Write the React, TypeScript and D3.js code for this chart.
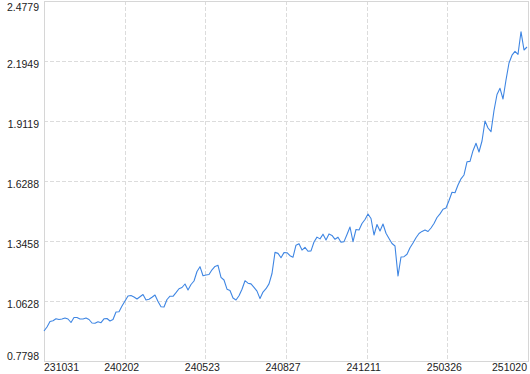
import React from "react";
import * as d3 from "d3";

const xTickLabels = ["231031", "240202", "240523", "240827", "241211", "250326", "251020"];
const yTickLabels = ["0.7798", "1.0628", "1.3458", "1.6288", "1.9119", "2.1949", "2.4779"];
const yMin = 0.7798;
const yMax = 2.4779;

const navValues = [
  0.9213, 0.9402, 0.9661, 0.9699, 0.9789, 0.9756, 0.9779, 0.9826, 0.9779, 0.9614,
  0.985, 0.985, 0.9779, 0.9779, 0.9826, 0.9756, 0.9591, 0.9576, 0.9647, 0.9605,
  0.9789, 0.9803, 0.9685, 0.9756, 1.0109, 1.0124, 1.0393, 1.0628, 1.0864, 1.0888,
  1.0817, 1.0723, 1.0831, 1.0935, 1.0676, 1.0709, 1.0803, 1.0911, 1.0605, 1.036,
  1.0345, 1.0699, 1.0855, 1.085, 1.102, 1.1208, 1.1265, 1.143, 1.1147, 1.1407,
  1.1572, 1.202, 1.2246, 1.1817, 1.1855, 1.1878, 1.21, 1.2256, 1.2312, 1.1746,
  1.1619, 1.1185, 1.1124, 1.077, 1.0676, 1.0874, 1.1185, 1.1586, 1.1468, 1.1435,
  1.127, 1.1095, 1.0742, 1.1048, 1.1208, 1.1435, 1.1925, 1.2921, 1.2874, 1.2671,
  1.2911, 1.2907, 1.2765, 1.2694, 1.326, 1.3331, 1.3029, 1.3161, 1.2973, 1.2992,
  1.3411, 1.3642, 1.3558, 1.3779, 1.3506, 1.3793, 1.3723, 1.3539, 1.3638, 1.3402,
  1.343, 1.3765, 1.4119, 1.3426, 1.4001, 1.3977, 1.4284, 1.4473, 1.4732, 1.452,
  1.3741, 1.4237, 1.393, 1.426, 1.3822, 1.3576, 1.3341, 1.3223, 1.1808, 1.2704,
  1.2718, 1.2831, 1.3138, 1.3364, 1.3614, 1.3812, 1.3911, 1.3977, 1.3907, 1.4072,
  1.4284, 1.4567, 1.4737, 1.4958, 1.5015, 1.5369, 1.5756, 1.5737, 1.61, 1.6392,
  1.6572, 1.7194, 1.7213, 1.7718, 1.8067, 1.7656, 1.8175, 1.9119, 1.8789, 1.8614,
  1.9614, 2.0369, 2.0661, 2.0157, 2.1053, 2.1855, 2.2222, 2.2402, 2.2265, 2.3331,
  2.2468, 2.2609,
];

const W = 530;
const H = 374;
const left = 44;
const right = 528;
const top = 1;
const bottom = 361;
const FONT = "'Liberation Sans', Arial, sans-serif";

export default function App() {
  const x = d3.scaleLinear().domain([0, navValues.length - 1]).range([left, right - 1]);
  const y = d3.scaleLinear().domain([yMin, yMax]).range([bottom, top]);
  const line = d3
    .line<number>()
    .x((_, i) => x(i))
    .y((d) => y(d));

  const yTicks = yTickLabels.map((t, i) => ({
    label: t,
    v: yMin + ((yMax - yMin) * i) / (yTickLabels.length - 1),
  }));
  const xPos = d3.scaleLinear().domain([0, xTickLabels.length - 1]).range([left, right]);

  return (
    <svg
      width={W}
      height={H}
      style={{ position: "absolute", left: 0, top: 0, background: "#fff" }}
      fontFamily={FONT}
      fontSize={10.5}
    >
      {/* horizontal grid */}
      {yTicks.slice(1, -1).map((t) => (
        <line
          key={"hg" + t.label}
          x1={left}
          x2={right}
          y1={Math.round(y(t.v)) + 0.5}
          y2={Math.round(y(t.v)) + 0.5}
          stroke="#dcdcdc"
          strokeDasharray="4,2"
        />
      ))}
      {/* vertical grid */}
      {xTickLabels.slice(1, -1).map((t, i) => (
        <line
          key={"vg" + t}
          x1={Math.round(xPos(i + 1)) + 0.5}
          x2={Math.round(xPos(i + 1)) + 0.5}
          y1={top}
          y2={bottom}
          stroke="#dcdcdc"
          strokeDasharray="4,2"
        />
      ))}
      {/* frame */}
      <rect
        x={left + 0.5}
        y={top + 0.5}
        width={right - left}
        height={bottom - top}
        fill="none"
        stroke="#d6d6d6"
      />
      {/* line */}
      <path d={line(navValues) || ""} fill="none" stroke="#3f86e3" strokeWidth={1.1} strokeLinejoin="round" />
      {/* y labels */}
      {yTicks.map((t, i) => {
        let by = y(t.v) + 6.5;
        if (i === yTicks.length - 1) by = 10.5;
        if (i === 0) by = 360;
        return (
          <text key={"yl" + t.label} x={39} y={by} textAnchor="end" fill="#222">
            {t.label}
          </text>
        );
      })}
      {/* x labels */}
      {xTickLabels.map((t, i) => {
        const last = xTickLabels.length - 1;
        const anchor = i === 0 ? "start" : i === last ? "end" : "middle";
        const px = i === 0 ? left : i === last ? right - 1 : xPos(i) - 3;
        return (
          <text key={"xl" + t} x={px} y={370.5} textAnchor={anchor} fill="#222">
            {t}
          </text>
        );
      })}
    </svg>
  );
}
